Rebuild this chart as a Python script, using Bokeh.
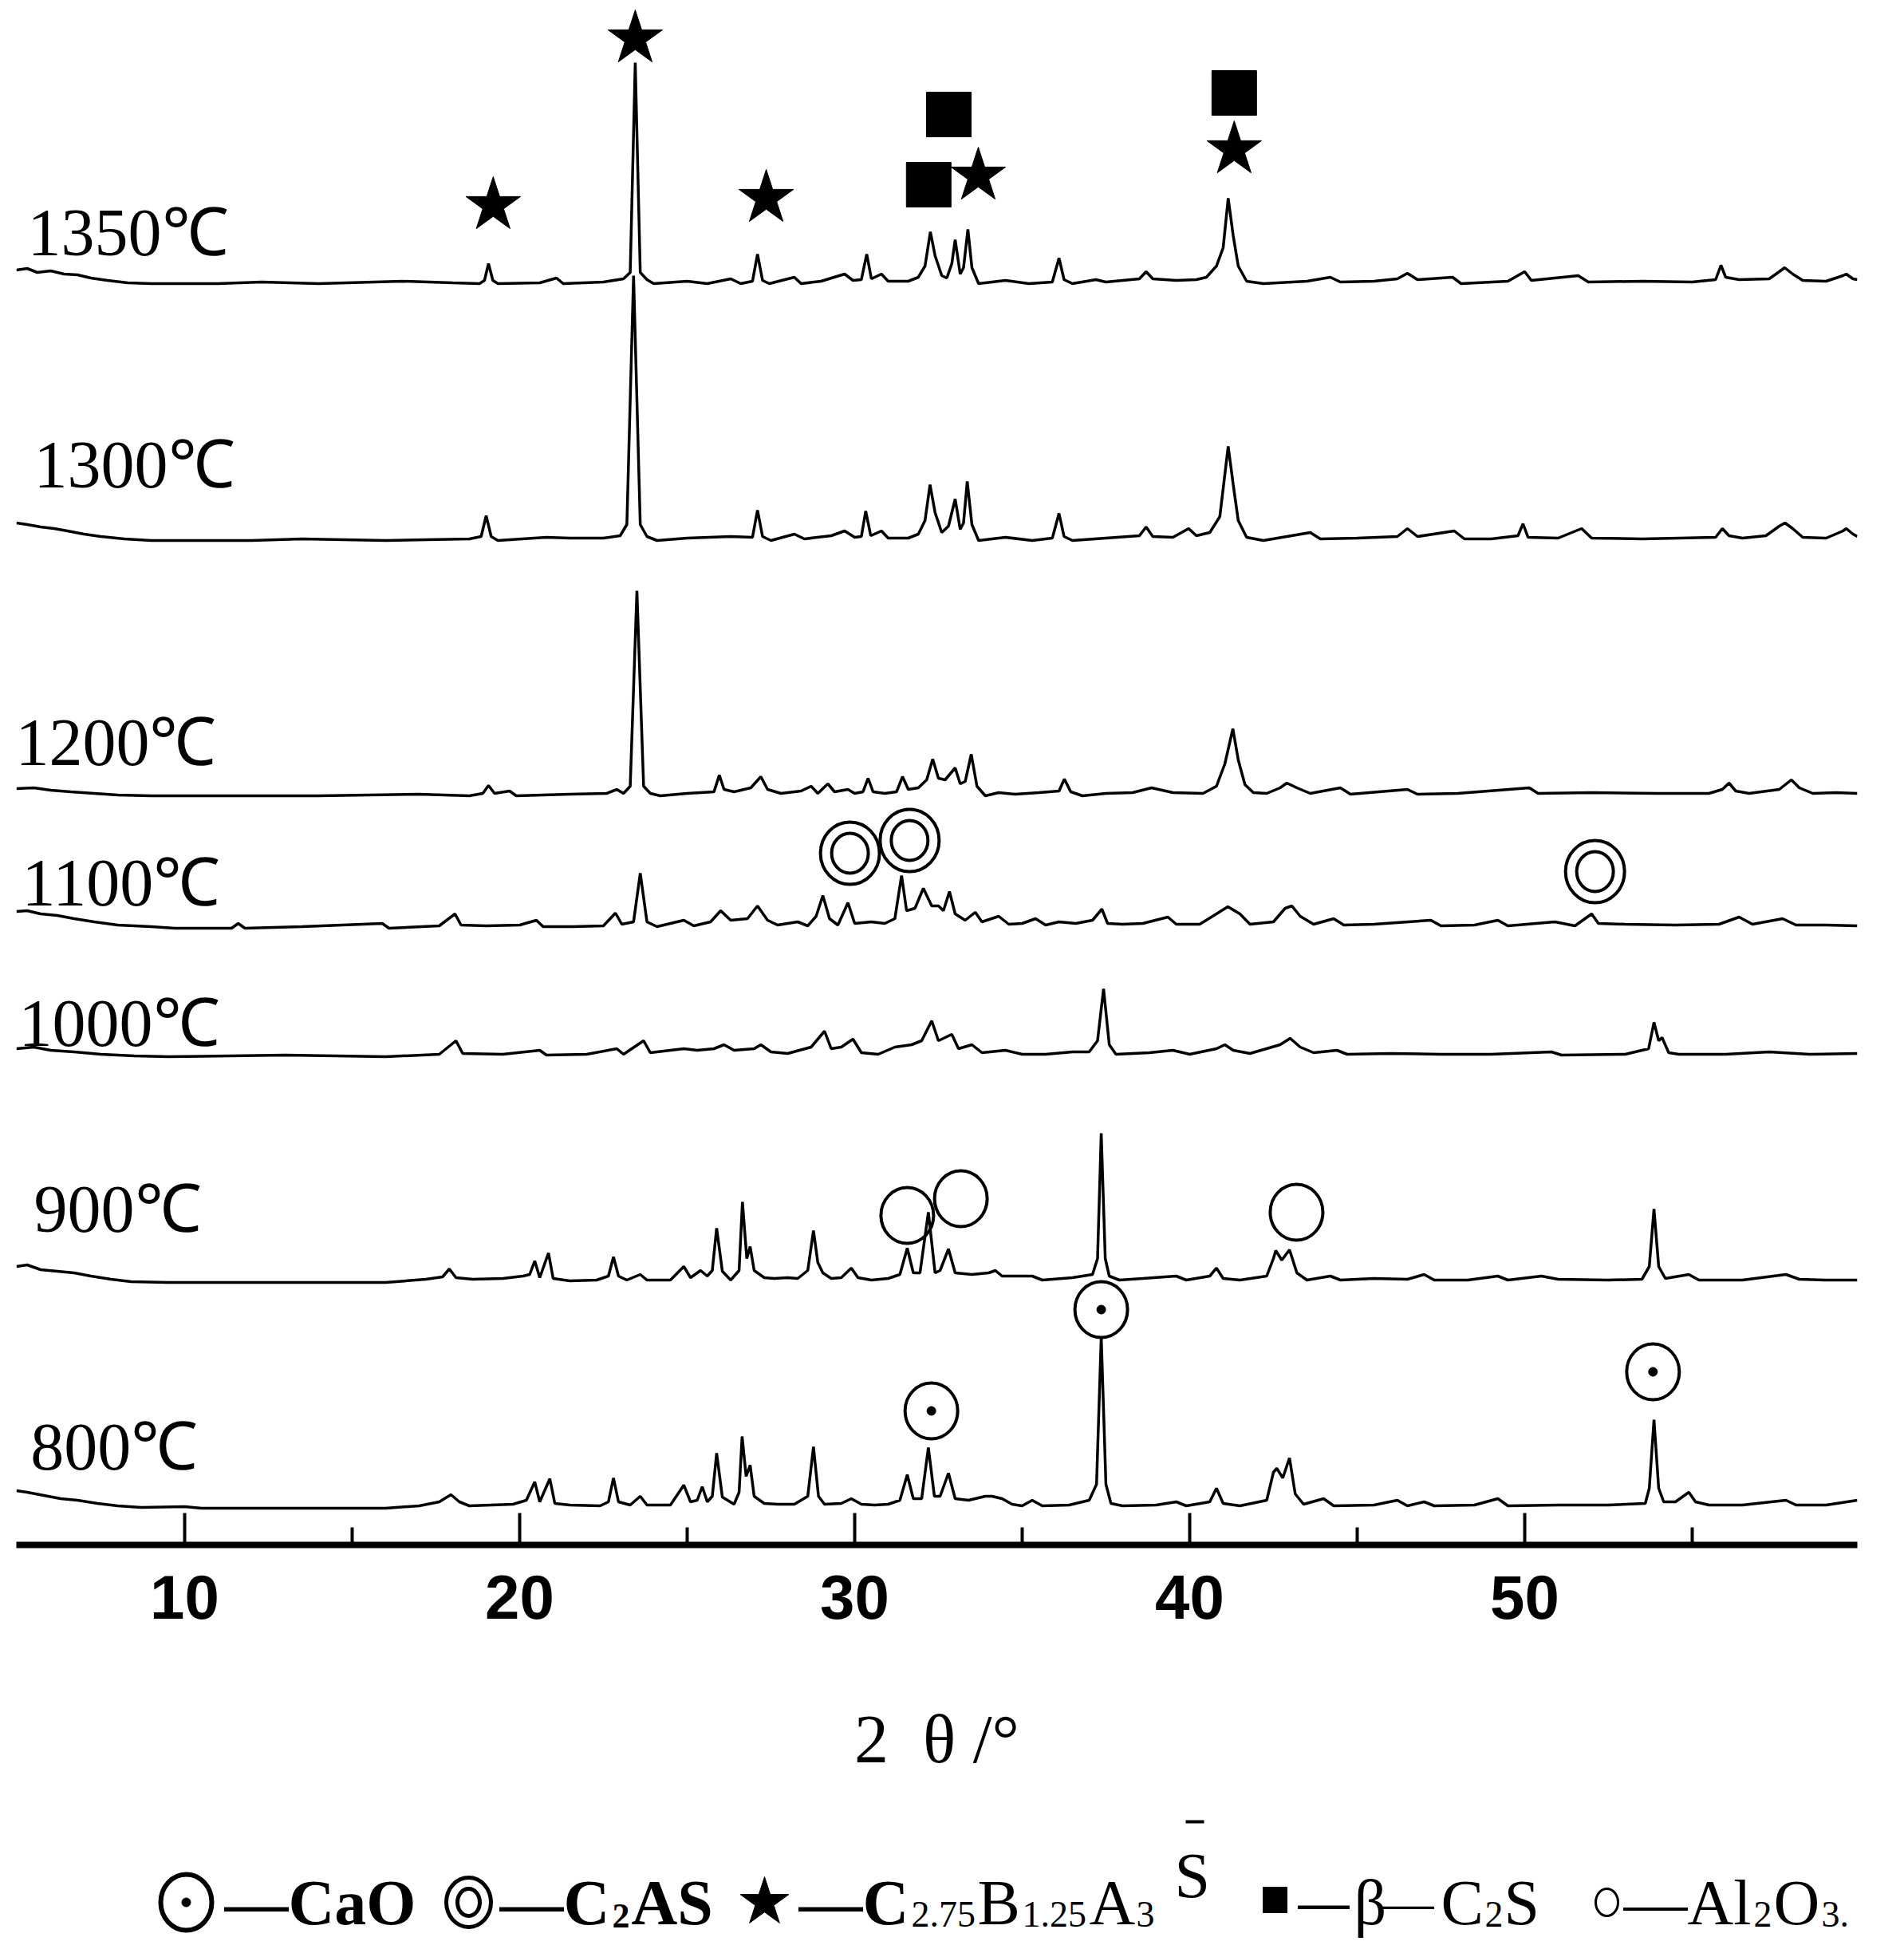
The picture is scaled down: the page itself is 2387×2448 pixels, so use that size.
from bokeh.plotting import figure
from bokeh.models import Range1d, FixedTicker
from bokeh.layouts import column
from bokeh.embed import file_html
from bokeh.resources import INLINE
from bokeh.core.properties import value

# ---------------- data: XRD patterns (2theta [deg], intensity above baseline [a.u.]) ----------------
labels = ["1350℃", "1300℃", "1200℃", "1100℃", "1000℃", "900℃", "800℃"]

xrd_1350 = [(4.98,17),(5.3,19),(5.6,14),(6.0,16),(6.4,12),(6.8,11),(7.2,7),(7.7,4),(8.3,1),(9.0,0),(11.0,0),(12.3,2),(14.0,0),(16.5,3),(18.0,1),(18.8,0),
            (18.95,4),(19.07,25),(19.2,4),(19.35,0),(20.6,1),(21.1,7),(21.3,0),(22.5,2),(23.1,6),(23.3,14),(23.45,277),(23.6,14),(23.8,5),(24.0,0),
            (25.0,3),(25.6,0),(26.3,6),(26.6,0),(26.95,3),(27.1,37),(27.25,4),(27.45,0),(28.2,8),(28.4,0),(29.0,3),(29.7,12),(29.95,4),(30.2,5),
            (30.36,37),(30.5,6),(30.8,12),(31.0,3),(31.6,3),(31.9,8),(32.1,22),(32.26,65),(32.4,35),(32.6,10),(32.75,7),(32.9,25),(33.0,55),
            (33.15,12),(33.25,20),(33.38,68),(33.5,20),(33.7,0),(34.5,4),(35.2,0),(35.9,2),(36.1,32),(36.25,5),(36.5,0),(37.2,5),(37.5,2),
            (38.5,6),(38.7,15),(38.9,6),(39.6,4),(40.2,5),(40.5,8),(40.8,22),(41.0,45),(41.15,107),(41.3,60),(41.45,22),(41.7,3),(42.2,0),
            (43.5,3),(44.2,8),(44.5,2),(45.5,3),(46.2,6),(46.5,13),(46.8,5),(47.85,8),(48.1,0),(49.5,3),(50.0,15),(50.2,4),(51.6,10),(51.9,2),
            (53.5,3),(55.0,2),(55.7,5),(55.86,23),(56.0,8),(56.4,5),(57.3,6),(57.6,15),(57.76,20),(58.0,12),(58.3,4),(59.0,3),(59.5,10),
            (59.6,12),(59.8,6),(59.93,5)]

xrd_1300 = [(4.98,22),(5.3,20),(5.7,17),(6.1,15),(6.5,12),(7.0,8),(7.5,5),(8.2,2),(9.0,0),(12.0,0),(13.5,2),(16.0,0),(18.5,2),(18.85,5),
            (19.0,31),(19.15,5),(19.35,0),(20.8,4),(21.5,3),(22.5,3),(23.0,6),(23.2,20),(23.4,332),(23.6,20),(23.8,5),(24.1,0),(25.0,3),
            (26.3,5),(26.95,4),(27.1,38),(27.25,5),(27.5,0),(28.2,8),(28.5,2),(29.3,6),(29.7,12),(30.0,4),(30.2,5),(30.33,37),(30.48,6),
            (30.8,12),(31.0,3),(31.6,3),(31.9,8),(32.1,25),(32.25,70),(32.4,35),(32.6,10),(32.8,18),(33.0,52),(33.15,14),(33.25,22),
            (33.36,74),(33.5,20),(33.7,0),(34.5,4),(35.3,0),(35.9,3),(36.1,34),(36.25,5),(36.5,0),(37.5,3),(38.5,6),(38.7,17),(38.9,5),
            (39.5,4),(39.97,15),(40.2,6),(40.6,10),(40.9,30),(41.15,118),(41.3,70),(41.45,25),(41.7,4),(42.2,0),(43.6,10),(43.9,2),
            (45.0,3),(46.2,5),(46.5,15),(46.8,5),(47.9,12),(48.2,2),(49.0,2),(49.8,6),(49.95,21),(50.1,4),(51.0,3),(51.7,15),(52.0,3),
            (53.5,2),(55.7,4),(55.9,15),(56.1,6),(56.5,3),(57.2,6),(57.6,18),(57.77,22),(58.0,15),(58.3,4),(59.0,3),(59.5,12),(59.6,15),
            (59.8,8),(59.93,5)]

xrd_1200 = [(4.98,9),(5.5,10),(6.0,7),(6.6,5),(7.3,3),(8.0,1),(9.0,0),(14.0,0),(17.0,2),(18.5,0),(18.9,3),(19.07,13),(19.25,3),(19.7,6),
            (19.9,0),(21.5,2),(22.6,3),(22.9,8),(23.1,3),(23.3,12),(23.5,257),(23.7,12),(23.9,3),(24.2,0),(25.0,3),(25.8,5),(25.96,26),
            (26.1,8),(26.4,5),(26.9,10),(27.2,24),(27.4,8),(27.8,3),(28.4,6),(28.7,12),(28.9,3),(29.2,15),(29.4,5),(29.8,8),(30.0,3),
            (30.25,5),(30.4,22),(30.55,5),(30.9,3),(31.25,5),(31.43,24),(31.6,8),(31.9,10),(32.15,20),(32.33,46),(32.5,22),(32.7,20),
            (33.0,35),(33.15,15),(33.3,18),(33.48,52),(33.65,12),(33.9,0),(34.3,4),(34.8,2),(35.5,4),(36.1,6),(36.26,21),(36.45,5),
            (36.8,0),(37.5,3),(38.3,4),(38.86,10),(39.5,4),(40.4,3),(40.8,12),(41.05,40),(41.29,84),(41.45,45),(41.65,14),(41.9,4),
            (42.3,3),(42.7,10),(42.9,16),(43.2,10),(43.6,3),(44.5,10),(44.8,2),(46.5,8),(46.8,2),(48.0,3),(50.14,10),(50.4,3),(52.0,4),
            (54.0,3),(55.5,3),(55.9,8),(56.1,16),(56.3,6),(56.7,3),(57.6,8),(57.96,20),(58.2,10),(58.6,3),(59.3,4),(59.93,3)]

xrd_1100 = [(4.98,21),(5.3,22),(5.7,18),(6.2,16),(6.7,12),(7.3,8),(8.0,4),(9.0,2),(9.7,0),(11.4,0),(11.6,6),(11.8,0),(13.5,2),(15.9,6),
            (16.1,0),(17.6,3),(18.07,18),(18.25,4),(19.0,3),(20.0,4),(20.5,10),(20.7,2),(21.6,2),(22.5,3),(22.86,19),(23.05,5),(23.4,8),
            (23.6,69),(23.8,8),(24.1,2),(24.9,10),(25.2,3),(25.7,8),(26.0,22),(26.3,10),(26.8,12),(27.1,28),(27.4,10),(27.7,4),(28.3,8),
            (28.6,3),(28.85,15),(29.05,41),(29.25,12),(29.5,4),(29.8,32),(30.0,6),(30.5,8),(30.9,6),(31.2,12),(31.4,66),(31.55,22),
            (31.8,25),(32.05,50),(32.3,28),(32.5,28),(32.65,22),(32.83,46),(33.0,18),(33.3,10),(33.6,20),(33.8,8),(34.3,15),(34.6,5),
            (35.0,6),(35.4,12),(35.7,4),(36.1,8),(36.6,6),(37.1,10),(37.38,24),(37.55,6),(38.0,5),(38.6,6),(39.35,14),(39.6,5),(40.3,5),
            (40.8,18),(41.14,27),(41.5,18),(41.8,5),(42.5,8),(42.85,25),(43.05,28),(43.3,15),(43.7,5),(44.3,12),(44.6,4),(45.5,5),
            (47.2,10),(47.5,3),(48.5,4),(49.2,10),(49.5,3),(50.9,8),(51.5,3),(52.0,18),(52.2,6),(53.0,5),(54.5,4),(55.8,5),(56.4,14),
            (56.8,5),(57.7,12),(58.1,4),(59.0,4),(59.93,3)]

xrd_1000 = [(4.98,10),(5.5,12),(6.0,8),(6.7,6),(7.5,3),(8.5,1),(9.5,0),(13.0,2),(16.0,0),(17.6,3),(18.1,20),(18.3,4),(19.5,3),(20.6,8),
            (20.8,2),(22.0,3),(22.9,10),(23.1,3),(23.7,20),(23.9,5),(24.5,8),(24.9,10),(25.3,8),(25.8,10),(26.1,15),(26.4,8),(27.0,10),
            (27.2,15),(27.5,6),(28.0,4),(28.7,12),(29.1,32),(29.3,10),(29.6,12),(29.95,22),(30.2,5),(30.7,3),(31.2,12),(31.7,15),(32.0,20),
            (32.3,45),(32.5,20),(32.9,28),(33.1,10),(33.5,15),(33.8,5),(34.5,8),(35.0,3),(35.7,3),(36.5,6),(37.0,6),(37.25,20),(37.43,85),
            (37.6,15),(37.8,3),(38.8,5),(39.5,8),(40.0,3),(40.8,10),(41.05,15),(41.3,8),(41.8,4),(42.7,15),(43.0,23),(43.3,12),(43.7,5),
            (44.4,8),(44.7,3),(46.0,4),(47.5,3),(49.0,3),(50.8,6),(51.1,2),(53.0,3),(53.7,10),(53.86,43),(54.0,20),(54.1,24),(54.3,5),
            (54.6,3),(56.0,3),(57.3,6),(58.5,3),(59.93,4)]

xrd_900 = [(4.98,20),(5.3,22),(5.7,16),(6.2,14),(6.7,12),(7.2,8),(7.8,4),(8.4,1),(9.5,0),(13.0,0),(16.0,0),(17.2,4),(17.7,7),(17.9,17),
           (18.1,6),(18.6,4),(19.5,5),(20.1,8),(20.3,10),(20.45,27),(20.6,6),(20.86,37),(21.0,5),(21.5,2),(22.3,3),(22.65,8),(22.8,32),
           (22.95,8),(23.2,3),(23.6,10),(23.8,3),(24.5,3),(24.9,20),(25.1,6),(25.4,15),(25.6,8),(25.75,15),(25.88,68),(26.05,14),(26.3,3),
           (26.55,15),(26.65,101),(26.78,30),(26.88,45),(27.0,15),(27.3,6),(27.6,5),(28.0,6),(28.3,5),(28.6,15),(28.77,65),(28.9,25),
           (29.05,12),(29.3,5),(29.6,6),(29.9,18),(30.1,6),(30.5,3),(31.0,5),(31.35,10),(31.57,43),(31.75,12),(31.95,12),(32.2,88),
           (32.4,12),(32.55,15),(32.8,42),(33.0,12),(33.5,10),(34.0,12),(34.2,15),(34.4,8),(35.3,8),(35.6,3),(36.5,6),(37.1,10),
           (37.25,30),(37.36,187),(37.48,30),(37.6,8),(37.9,3),(38.6,5),(39.6,8),(39.9,3),(40.6,8),(40.8,18),(41.0,5),(41.5,3),(42.3,8),
           (42.5,30),(42.57,40),(42.75,28),(42.98,41),(43.2,12),(43.5,3),(44.2,8),(44.5,3),(45.5,5),(46.5,4),(47.0,10),(47.3,3),(48.3,3),
           (49.2,8),(49.5,3),(50.5,8),(51.0,4),(52.5,3),(53.5,4),(53.72,20),(53.86,92),(54.0,20),(54.2,5),(54.9,10),(55.2,3),(56.5,3),
           (57.8,10),(58.2,4),(59.0,3),(59.93,3)]

xrd_800 = [(4.98,22),(5.3,20),(5.8,16),(6.3,12),(6.8,10),(7.4,6),(8.0,3),(8.7,1),(10.0,2),(10.5,0),(13.0,0),(16.0,0),(17.0,3),(17.6,8),
           (17.95,17),(18.2,8),(18.5,3),(19.8,5),(20.2,10),(20.45,33),(20.6,8),(20.9,37),(21.05,6),(21.5,4),(22.4,3),(22.65,8),(22.8,38),
           (22.95,8),(23.3,4),(23.6,15),(23.8,4),(24.5,4),(24.9,29),(25.1,8),(25.3,10),(25.45,27),(25.6,8),(25.75,15),(25.88,69),(26.05,14),
           (26.4,5),(26.55,20),(26.64,90),(26.76,40),(26.88,54),(27.0,15),(27.3,6),(27.7,5),(28.2,5),(28.6,15),(28.77,77),(28.92,15),
           (29.1,5),(29.6,6),(29.9,12),(30.2,5),(30.6,4),(31.0,5),(31.35,10),(31.57,42),(31.75,12),(32.0,12),(32.2,76),(32.38,15),
           (32.55,15),(32.8,44),(33.0,12),(33.4,10),(33.9,15),(34.1,15),(34.4,12),(34.7,5),(35.0,3),(35.3,10),(35.6,3),(36.4,4),(37.0,10),
           (37.22,30),(37.36,215),(37.5,30),(37.65,6),(38.0,3),(39.0,4),(39.6,8),(39.9,3),(40.6,8),(40.8,25),(41.0,6),(41.5,3),(42.3,10),
           (42.5,45),(42.6,50),(42.78,38),(42.98,63),(43.15,18),(43.4,5),(44.0,12),(44.3,3),(45.5,4),(46.2,10),(46.5,3),(47.0,8),(47.3,3),
           (48.5,4),(49.2,12),(49.5,3),(51.0,4),(52.5,4),(53.6,6),(53.72,25),(53.86,111),(54.0,25),(54.15,8),(54.5,8),(54.9,20),(55.1,8),
           (55.5,4),(56.5,4),(57.8,10),(58.1,4),(59.0,4),(59.93,10)]

patterns = [xrd_1350, xrd_1300, xrd_1200, xrd_1100, xrd_1000, xrd_900, xrd_800]

# phase identification markers: (2theta, height on the stacked scale)
star_tt = [19.21, 23.45, 27.36, 33.69, 41.33]          # C2.75B1.25A3S
star_h = [1679, 1888, 1688, 1716, 1749]
square_tt = [32.81, 32.21, 41.33]                       # beta-C2S
square_h = [1793, 1705, 1820]
c2as_tt = [29.86, 31.64, 52.10]                         # C2AS
c2as_h = [867, 883, 844]
al2o3_tt = [31.57, 33.17, 43.19]                        # Al2O3
al2o3_h = [413, 434, 417]
cao_tt = [37.36, 32.29, 53.83]                          # CaO
cao_h = [295, 168, 217]

# ---------------- layout constants ----------------
stack_offset = [1581, 1259, 939, 773, 612, 329, 46]
label_tt = [5.31, 5.50, 4.95, 5.14, 5.05, 5.50, 5.40]
label_y = [1645, 1354, 1006, 830, 654, 421, 123]   # vertical centre of the label digits

SERIF = value("Liberation Serif")

p = figure(frame_width=2308, frame_height=1928, x_range=Range1d(4.976, 59.93), y_range=Range1d(0, 1928),
           output_backend="svg", toolbar_location=None, y_axis_location=None,
           min_border_left=20, min_border_right=43, min_border_top=8, min_border_bottom=334)
p.outline_line_color = None
p.grid.visible = False
p.background_fill_color = "white"

for pat, off in zip(patterns, stack_offset):
    xs = [a for a, b in pat]
    ys = [b + off for a, b in pat]
    p.line(xs, ys, line_color="black", line_width=3.5)

p.text(x=label_tt, y=label_y, text=labels, text_font=SERIF, text_font_size="84px",
       text_align="left", text_baseline="middle", text_color="black")

p.scatter(star_tt, star_h, marker="star", size=72, fill_color="black", line_color="black")
p.scatter(square_tt, square_h, marker="square", size=56, fill_color="black", line_color="black")
p.ellipse(c2as_tt, c2as_h, width=74, height=78, width_units="screen", height_units="screen",
          fill_color=None, line_color="black", line_width=4)
p.ellipse(c2as_tt, c2as_h, width=46, height=50, width_units="screen", height_units="screen",
          fill_color=None, line_color="black", line_width=4)
p.ellipse(al2o3_tt, al2o3_h, width=66, height=70, width_units="screen", height_units="screen",
          fill_color=None, line_color="black", line_width=4)
p.ellipse(cao_tt, cao_h, width=66, height=70, width_units="screen", height_units="screen",
          fill_color=None, line_color="black", line_width=4)
p.scatter(cao_tt, cao_h, marker="circle", size=11, fill_color="black", line_color="black")

ax = p.xaxis[0]
ax.ticker = FixedTicker(ticks=[10, 20, 30, 40, 50], minor_ticks=[15, 25, 35, 45, 55])
ax.axis_line_width = 8
ax.axis_line_color = "black"
ax.major_tick_in = 40
ax.major_tick_out = 0
ax.minor_tick_in = 22
ax.minor_tick_out = 0
ax.major_tick_line_width = 4
ax.minor_tick_line_width = 4
ax.major_tick_line_color = "black"
ax.minor_tick_line_color = "black"
ax.major_label_text_font = "Liberation Sans"
ax.major_label_text_font_style = "bold"
ax.major_label_text_font_size = "78px"
ax.major_label_text_color = "black"
ax.major_label_standoff = 38
ax.axis_label = "2\u2002θ /°"
ax.axis_label_text_font = "Liberation Serif"
ax.axis_label_text_font_style = "normal"
ax.axis_label_text_font_size = "86px"
ax.axis_label_text_color = "black"
ax.axis_label_standoff = 100

# ---------------- legend strip ----------------
q = figure(frame_width=2371, frame_height=162, x_range=Range1d(17, 2388), y_range=Range1d(2432, 2270),
           output_backend="svg", toolbar_location=None, x_axis_location=None, y_axis_location=None,
           min_border_left=0, min_border_right=0, min_border_top=0, min_border_bottom=0)
q.outline_line_color = None
q.grid.visible = False

# symbols
q.ellipse([230], [2384], width=64, height=70, fill_color=None, line_color="black", line_width=6)
q.scatter([230], [2384], marker="circle", size=11, color="black")
q.ellipse([584], [2384], width=56, height=62, fill_color=None, line_color="black", line_width=5)
q.ellipse([584], [2384], width=28, height=34, fill_color=None, line_color="black", line_width=5)
q.scatter([955], [2384], marker="star", size=64, color="black")
q.rect([1595], [2381], width=30, height=32, color="black")
q.ellipse([2011], [2384], width=28, height=34, fill_color=None, line_color="black", line_width=3)
q.segment(x0=[1483], y0=[2283], x1=[1506], y1=[2283], line_color="black", line_width=4)

big_bold = dict(text_font=SERIF, text_font_size="80px", text_font_style="bold", text_baseline="middle", text_align="left")
big_reg = dict(text_font=SERIF, text_font_size="80px", text_font_style="normal", text_baseline="middle", text_align="left")
dash_bold = dict(text_font=SERIF, text_font_size="64px", text_font_style="bold", text_baseline="middle", text_align="left")
dash_reg = dict(text_font=SERIF, text_font_size="64px", text_font_style="normal", text_baseline="middle", text_align="left")
sub_bold = dict(text_font=SERIF, text_font_size="44px", text_font_style="bold", text_baseline="middle", text_align="left")
sub_reg = dict(text_font=SERIF, text_font_size="46px", text_font_style="normal", text_baseline="middle", text_align="left")

q.text(x=[278, 623, 788, 998], y=[2384] * 4, text=["—CaO", "—C", "AS", "—C"], **big_bold)
q.text(x=[764], y=[2401], text=["2"], **sub_bold)
q.text(x=[1624], y=[2384], text=["—"], **dash_bold)
q.text(x=[1730], y=[2384], text=["—"], **dash_reg)
q.text(x=[1222, 1362, 1694, 1803, 1882, 2032, 2220], y=[2384] * 7,
       text=["B", "A", "β", "C", "S", "—Al", "O"], **big_reg)
q.text(x=[1469], y=[2350], text=["S"], **big_reg)
q.text(x=[1139, 1278, 1421, 1858, 2195, 2280], y=[2399] * 6,
       text=["2.75", "1.25", "3", "2", "2", "3."], **sub_reg)

open("out.html", "w").write(file_html(column(p, q), INLINE))
